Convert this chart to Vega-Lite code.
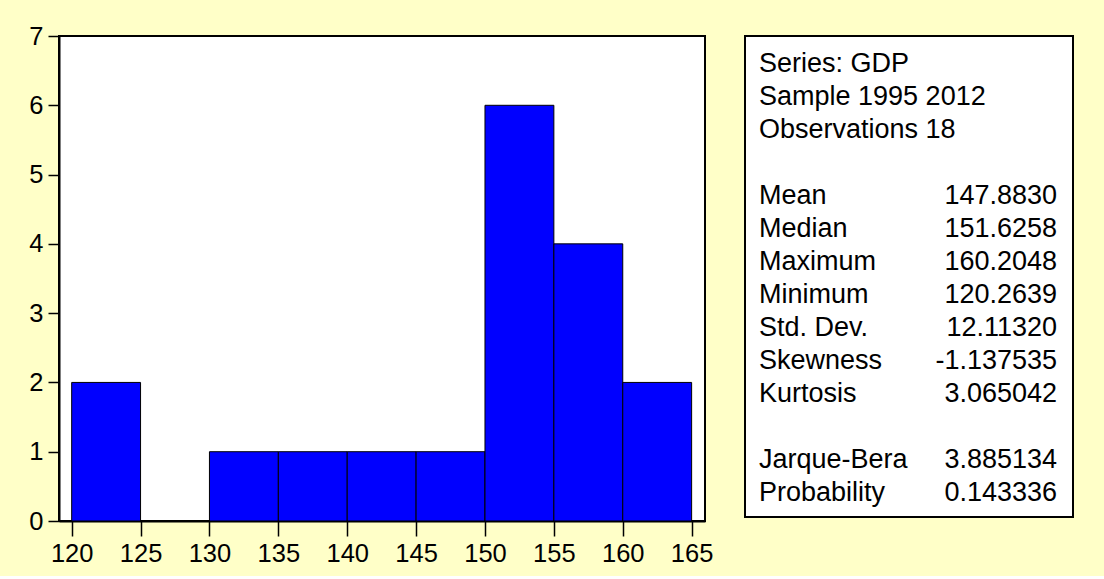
{
  "$schema": "https://vega.github.io/schema/vega-lite/v6.json",
  "background": "#FFFFC8",
  "padding": {"left": 27, "top": 23, "right": 31, "bottom": 8},
  "bounds": "flush",
  "spacing": 40,
  "config": {
    "font": "Liberation Sans",
    "view": {"fill": "white", "stroke": "black", "strokeWidth": 2},
    "axis": {
      "grid": false,
      "domainColor": "black",
      "domainWidth": 2,
      "tickColor": "black",
      "tickWidth": 1.5,
      "labelFont": "Liberation Sans",
      "labelFontSize": 25.5,
      "labelColor": "black",
      "title": null
    }
  },
  "datasets": {
    "bins": [
      {"lo": 120, "hi": 125, "count": 2},
      {"lo": 125, "hi": 130, "count": 0},
      {"lo": 130, "hi": 135, "count": 1},
      {"lo": 135, "hi": 140, "count": 1},
      {"lo": 140, "hi": 145, "count": 1},
      {"lo": 145, "hi": 150, "count": 1},
      {"lo": 150, "hi": 155, "count": 6},
      {"lo": 155, "hi": 160, "count": 4},
      {"lo": 160, "hi": 165, "count": 2}
    ],
    "stats": [
      {"line": 0, "label": "Series: GDP", "value": ""},
      {"line": 1, "label": "Sample 1995 2012", "value": ""},
      {"line": 2, "label": "Observations 18", "value": ""},
      {"line": 4, "label": "Mean", "value": "147.8830"},
      {"line": 5, "label": "Median", "value": "151.6258"},
      {"line": 6, "label": "Maximum", "value": "160.2048"},
      {"line": 7, "label": "Minimum", "value": "120.2639"},
      {"line": 8, "label": "Std. Dev.", "value": "12.11320"},
      {"line": 9, "label": "Skewness", "value": "-1.137535"},
      {"line": 10, "label": "Kurtosis", "value": "3.065042"},
      {"line": 12, "label": "Jarque-Bera", "value": "3.885134"},
      {"line": 13, "label": "Probability", "value": "0.143336"}
    ]
  },
  "hconcat": [
    {
      "width": 646,
      "height": 485,
      "data": {"name": "bins"},
      "transform": [{"filter": "datum.count > 0"}],
      "mark": {"type": "bar", "fill": "#0000FF", "stroke": "black", "strokeWidth": 1},
      "encoding": {
        "x": {
          "field": "lo",
          "type": "quantitative",
          "scale": {"domain": [119.08, 165.97], "nice": false, "zero": false},
          "axis": {"values": [120, 125, 130, 135, 140, 145, 150, 155, 160, 165], "tickSize": 15, "labelPadding": 5}
        },
        "x2": {"field": "hi"},
        "y": {
          "field": "count",
          "type": "quantitative",
          "scale": {"domain": [0, 7], "nice": false},
          "axis": {"values": [0, 1, 2, 3, 4, 5, 6, 7], "tickSize": 11, "labelPadding": 5}
        },
        "y2": {"datum": 0}
      }
    },
    {
      "width": 328,
      "height": 481,
      "data": {"name": "stats"},
      "layer": [
        {
          "mark": {"type": "text", "align": "left", "baseline": "alphabetic", "fontSize": 27, "font": "Liberation Sans", "color": "black"},
          "encoding": {
            "x": {"datum": 14, "type": "quantitative", "scale": {"domain": [0, 328], "nice": false, "zero": false}, "axis": null},
            "y": {"field": "line", "type": "quantitative", "scale": {"domain": [-1.082, 13.494], "reverse": true, "nice": false, "zero": false}, "axis": null},
            "text": {"field": "label"}
          }
        },
        {
          "mark": {"type": "text", "align": "right", "baseline": "alphabetic", "fontSize": 27, "font": "Liberation Sans", "color": "black"},
          "encoding": {
            "x": {"datum": 312, "type": "quantitative"},
            "y": {"field": "line", "type": "quantitative"},
            "text": {"field": "value"}
          }
        }
      ]
    }
  ]
}
